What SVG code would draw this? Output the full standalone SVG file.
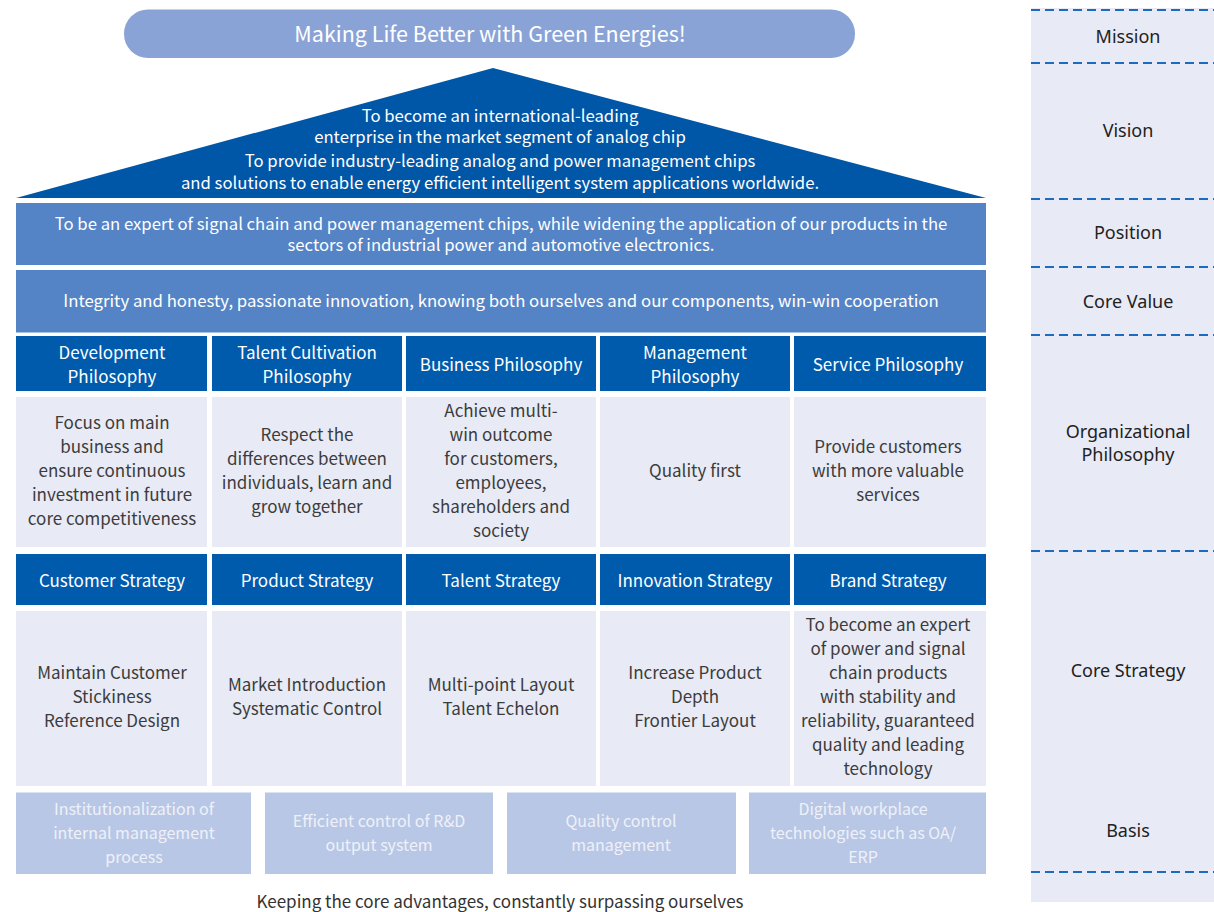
<svg xmlns="http://www.w3.org/2000/svg" width="1214" height="912" viewBox="0 0 1214 912">
<style>
.t{font-family:"Noto Sans CJK SC","Noto Sans",sans-serif;text-anchor:middle}
.w{fill:#ffffff}
.d{fill:#3c3c3c}
.b{fill:#eef1f9}
.hd{fill:#005bac}
.bd{fill:#e8eaf5}
.bs{fill:#b8c7e5}
.band{fill:#5484c6}
.lab{font-family:"Noto Sans","Open Sans",sans-serif;font-size:18px;fill:#222;text-anchor:middle}
.dash{stroke:#1b6cbf;stroke-width:2;stroke-dasharray:9 5;fill:none}
</style>
<rect width="1214" height="912" fill="#ffffff"/>
<g id="side">
<rect x="1031" y="8" width="183" height="894" fill="#e8eaf5"/>
<g id="dividers">
<line class="dash" x1="1031" y1="10" x2="1214" y2="10"/>
<line class="dash" x1="1031" y1="63" x2="1214" y2="63"/>
<line class="dash" x1="1031" y1="199" x2="1214" y2="199"/>
<line class="dash" x1="1031" y1="267" x2="1214" y2="267"/>
<line class="dash" x1="1031" y1="335" x2="1214" y2="335"/>
<line class="dash" x1="1031" y1="551" x2="1214" y2="551"/>
<line class="dash" x1="1031" y1="872" x2="1214" y2="872"/>
</g>
<text class="lab" x="1128" y="43">Mission</text>
<text class="lab" x="1128" y="137">Vision</text>
<text class="lab" x="1128" y="239">Position</text>
<text class="lab" x="1128" y="308">Core Value</text>
<text class="lab" x="1128" y="438">Organizational</text>
<text class="lab" x="1128" y="461">Philosophy</text>
<text class="lab" x="1128" y="677">Core Strategy</text>
<text class="lab" x="1128" y="837">Basis</text>
</g>
<g id="mission">
<rect x="124" y="9.5" width="731" height="48.5" rx="24" fill="#8aa3d6"/>
<text class="t w" x="490" y="41.5" font-size="21.5">Making Life Better with Green Energies!</text>
</g>
<g id="vision">
<polygon points="493,68 986,198 16,198" fill="#0057a8"/>
<g class="t w" font-size="16.7">
<text x="500" y="122">To become an international-leading</text>
<text x="500" y="143">enterprise in the market segment of analog chip</text>
<text x="500" y="167">To provide industry-leading analog and power management chips</text>
<text x="500" y="189">and solutions to enable energy efficient intelligent system applications worldwide.</text>
</g>
</g>
<g id="position">
<rect class="band" x="16" y="203" width="970" height="62"/>
<g class="t w" font-size="16.7">
<text x="501" y="229.5">To be an expert of signal chain and power management chips, while widening the application of our products in the</text>
<text x="501" y="251">sectors of industrial power and automotive electronics.</text>
</g>
</g>
<g id="core-value">
<rect class="band" x="16" y="270" width="970" height="62.5"/>
<text class="t w" x="501" y="307" font-size="16.75">Integrity and honesty, passionate innovation, knowing both ourselves and our components, win-win cooperation</text>
</g>
<g id="philosophy-headers" class="t w" font-size="17">
<g id="ph1"><rect class="hd" x="16" y="336" width="191" height="55"/><text x="112" y="359">Development</text><text x="112" y="383">Philosophy</text></g>
<g id="ph2"><rect class="hd" x="212" y="336" width="190" height="55"/><text x="307" y="359">Talent Cultivation</text><text x="307" y="383">Philosophy</text></g>
<g id="ph3"><rect class="hd" x="406" y="336" width="190" height="55"/><text x="501" y="371">Business Philosophy</text></g>
<g id="ph4"><rect class="hd" x="600" y="336" width="190" height="55"/><text x="695" y="359">Management</text><text x="695" y="383">Philosophy</text></g>
<g id="ph5"><rect class="hd" x="794" y="336" width="192" height="55"/><text x="888" y="371">Service Philosophy</text></g>
</g>
<g id="philosophy-bodies" class="t d" font-size="17">
<g id="pb1"><rect class="bd" x="16" y="397" width="191" height="150"/><text x="112" y="429">Focus on main</text><text x="112" y="453">business and</text><text x="112" y="477">ensure continuous</text><text x="112" y="501">investment in future</text><text x="112" y="525">core competitiveness</text></g>
<g id="pb2"><rect class="bd" x="212" y="397" width="190" height="150"/><text x="307" y="441">Respect the</text><text x="307" y="465">differences between</text><text x="307" y="489">individuals, learn and</text><text x="307" y="513">grow together</text></g>
<g id="pb3"><rect class="bd" x="406" y="397" width="190" height="150"/><text x="501" y="417">Achieve multi-</text><text x="501" y="441">win outcome</text><text x="501" y="465">for customers,</text><text x="501" y="489">employees,</text><text x="501" y="513">shareholders and</text><text x="501" y="537">society</text></g>
<g id="pb4"><rect class="bd" x="600" y="397" width="190" height="150"/><text x="695" y="477">Quality first</text></g>
<g id="pb5"><rect class="bd" x="794" y="397" width="192" height="150"/><text x="888" y="453">Provide customers</text><text x="888" y="477">with more valuable</text><text x="888" y="501">services</text></g>
</g>
<g id="strategy-headers" class="t w" font-size="17">
<g id="sh1"><rect class="hd" x="16" y="554" width="191" height="51"/><text x="112" y="587">Customer Strategy</text></g>
<g id="sh2"><rect class="hd" x="212" y="554" width="190" height="51"/><text x="307" y="587">Product Strategy</text></g>
<g id="sh3"><rect class="hd" x="406" y="554" width="190" height="51"/><text x="501" y="587">Talent Strategy</text></g>
<g id="sh4"><rect class="hd" x="600" y="554" width="190" height="51"/><text x="695" y="587">Innovation Strategy</text></g>
<g id="sh5"><rect class="hd" x="794" y="554" width="192" height="51"/><text x="888" y="587">Brand Strategy</text></g>
</g>
<g id="strategy-bodies" class="t d" font-size="17">
<g id="sb1"><rect class="bd" x="16" y="611" width="191" height="175"/><text x="112" y="679">Maintain Customer</text><text x="112" y="703">Stickiness</text><text x="112" y="727">Reference Design</text></g>
<g id="sb2"><rect class="bd" x="212" y="611" width="190" height="175"/><text x="307" y="691">Market Introduction</text><text x="307" y="715">Systematic Control</text></g>
<g id="sb3"><rect class="bd" x="406" y="611" width="190" height="175"/><text x="501" y="691">Multi-point Layout</text><text x="501" y="715">Talent Echelon</text></g>
<g id="sb4"><rect class="bd" x="600" y="611" width="190" height="175"/><text x="695" y="679">Increase Product</text><text x="695" y="703">Depth</text><text x="695" y="727">Frontier Layout</text></g>
<g id="sb5"><rect class="bd" x="794" y="611" width="192" height="175"/><text x="888" y="631">To become an expert</text><text x="888" y="655">of power and signal</text><text x="888" y="679">chain products</text><text x="888" y="703">with stability and</text><text x="888" y="727">reliability, guaranteed</text><text x="888" y="751">quality and leading</text><text x="888" y="775">technology</text></g>
</g>
<g id="basis" class="t b" font-size="16">
<g id="ba1"><rect class="bs" x="16" y="792.5" width="235" height="81.5"/><text x="134" y="815">Institutionalization of</text><text x="134" y="839">internal management</text><text x="134" y="863">process</text></g>
<g id="ba2"><rect class="bs" x="265" y="792.5" width="228" height="81.5"/><text x="379" y="827">Efficient control of R&amp;D</text><text x="379" y="851">output system</text></g>
<g id="ba3"><rect class="bs" x="507" y="792.5" width="229" height="81.5"/><text x="621" y="827">Quality control</text><text x="621" y="851">management</text></g>
<g id="ba4"><rect class="bs" x="749" y="792.5" width="237" height="81.5"/><text x="863" y="815">Digital workplace</text><text x="863" y="839">technologies such as OA/</text><text x="863" y="863">ERP</text></g>
</g>
<text class="t" x="500" y="908" font-size="17" fill="#333">Keeping the core advantages, constantly surpassing ourselves</text>
</svg>
